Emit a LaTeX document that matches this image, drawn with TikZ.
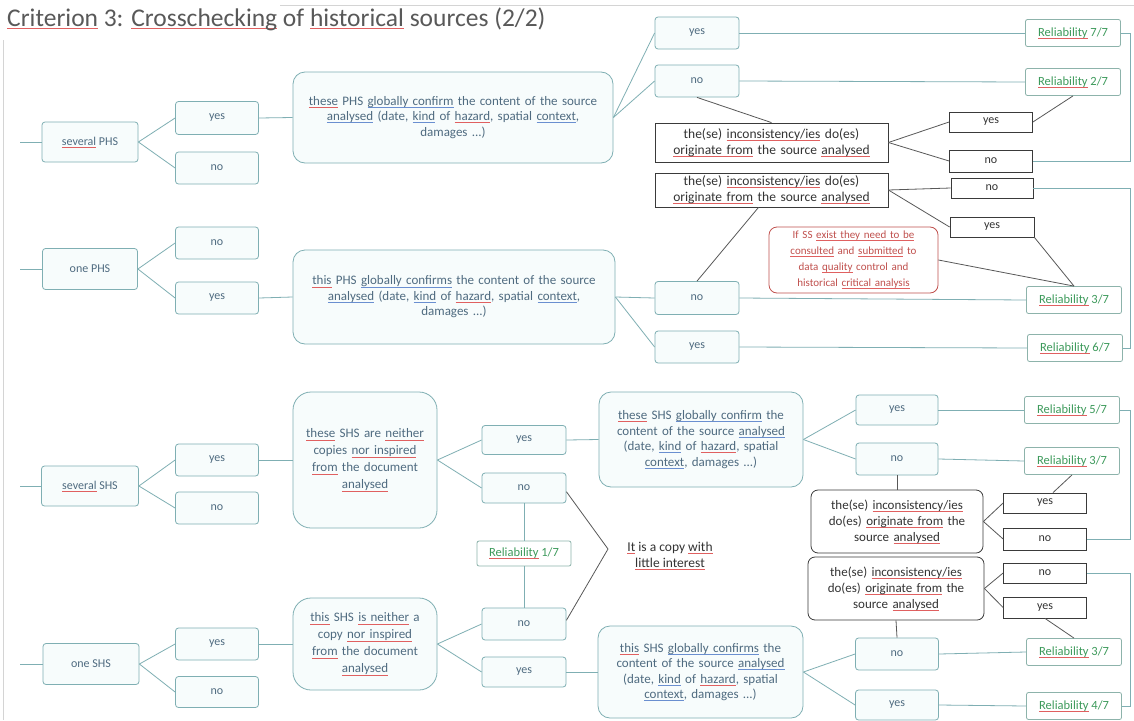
\documentclass[tikz,border=0pt]{standalone}
\usepackage{fontspec}
\setmainfont{Carlito}
\usetikzlibrary{calc}

\definecolor{tealline}{HTML}{7FAFB3}
\definecolor{tealfill}{HTML}{F7FCFC}
\definecolor{tealtext}{HTML}{4F6B80}
\definecolor{incborder}{HTML}{3A3A3A}
\definecolor{inctext}{HTML}{333333}
\definecolor{relborder}{HTML}{8DB3AB}
\definecolor{relgreen}{HTML}{3D9A5B}
\definecolor{notered}{HTML}{C0504D}
\definecolor{titlec}{HTML}{595959}
\definecolor{framec}{HTML}{D4D4D4}
\definecolor{spellred}{HTML}{E06060}
\definecolor{spellblue}{HTML}{6A8FD0}

% proofing underlines under single words
\newcommand\redu[1]{\leavevmode\setbox0\hbox{#1}\rlap{\color{spellred}\rule[-2.2pt]{\wd0}{0.6pt}}\box0\relax}
\newcommand\blueu[1]{\leavevmode\setbox0\hbox{#1}\rlap{\color{spellblue}\rule[-2.2pt]{\wd0}{0.6pt}}\box0\relax}

\begin{document}
\begin{tikzpicture}[x=1pt,y=-1pt,
  sz/.style 2 args={minimum width=#1, minimum height=#2},
  tbox/.style={draw=tealline, fill=tealfill, rounded corners=3pt, line width=0.8pt,
    text=tealtext, font=\fontsize{12}{14}\selectfont, inner sep=0pt, align=center},
  bigbox/.style={tbox, rounded corners=12pt, font=\fontsize{13}{15.5}\selectfont},
  roundbox/.style={tbox, rounded corners=18pt, font=\fontsize{13}{17}\selectfont},
  ibox/.style={draw=incborder, fill=white, line width=0.8pt, text=inctext,
    font=\fontsize{13.5}{16}\selectfont, inner sep=0pt, align=center},
  iround/.style={ibox, rounded corners=7pt, font=\fontsize{13}{16}\selectfont},
  ybox/.style={ibox, font=\fontsize{12}{14}\selectfont},
  relbox/.style={draw=relborder, fill=white, line width=0.8pt, rounded corners=2pt,
    text=relgreen, font=\fontsize{12.5}{14}\selectfont, inner sep=0pt, minimum width=95, minimum height=27},
  notebox/.style={draw=notered, fill=white, line width=0.8pt, rounded corners=8pt,
    text=notered, font=\fontsize{11}{16}\selectfont, inner sep=0pt, align=center},
  tline/.style={draw=tealline, line width=0.8pt},
  bline/.style={draw=incborder!85, line width=0.8pt},
  framel/.style={draw=framec, line width=0.8pt}]

\useasboundingbox[fill=white] (0,0) rectangle (1134,720);

% slide frame
\draw[framel] (3,40) -- (3,720);
\draw[framel] (280,5) -- (1134,5);

% title
\node[anchor=west, inner sep=0pt, text=titlec, font=\fontsize{25.5}{29}\selectfont] (title) at (7,19)
  {\redu{Criterion} 3: \redu{Crosschecking} of \redu{historical} sources (2/2)};

% right-hand rail for the "no" answers
\coordinate (rail) at (1130,0);

% ---------------- several PHS ----------------
\coordinate (in1) at (20,142);
\node[tbox,sz={96}{40}] (sPHS) at (90,142) {\redu{several} PHS};
\node[tbox,sz={83}{33}] (s1y) at (217,118) {yes};
\node[tbox,sz={83}{32}] (s1n) at (217,168) {no};
\node[bigbox,sz={320}{91},text width=314] (bigA) at (453,117.5)
  {\redu{these} PHS \blueu{globally confirm} the content of the source\\
   \blueu{analysed} (date, \blueu{kind} of \redu{hazard}, spatial \blueu{context},\\ damages ...)};
\node[tbox,sz={84}{32}] (ay) at (697,33) {yes};
\node[tbox,sz={84}{32}] (an) at (697,81) {no};
\node[relbox] (R77) at (1073,33) {\redu{Reliability} 7/7};
\node[relbox] (R27) at (1073,82) {\redu{Reliability} 2/7};
\node[ibox,sz={233}{39},text width=229] (incA) at (771.5,142.5)
  {the(se) \redu{inconsistency/ies} do(es)\\ \redu{originate from} the source \redu{analysed}};
\node[ybox,sz={83}{20}] (incAy) at (991,122) {yes};
\node[ybox,sz={83}{22}] (incAn) at (991,161) {no};

\draw[tline] (in1) -- (sPHS.west);
\draw[tline] (sPHS.east) -- (s1y.west);
\draw[tline] (sPHS.east) -- (s1n.west);
\draw[tline] (s1y.east) -- (bigA.west);
\draw[tline] (bigA.east) -- (ay.west);
\draw[tline] (bigA.east) -- (an.west);
\draw[tline] (ay.east) -- (R77.west);
\draw[tline] (an.east) -- (R27.west);
\draw[bline] (an.south) -- (incA.north);
\draw[bline] (incA.east) -- (incAy.west);
\draw[bline] (incA.east) -- (incAn.west);
\draw[bline] (incAy.east) -- (R27.south);
\draw[tline] (incAn.east) -- (incAn.east -| rail) |- (R77.east);

% ---------------- one PHS ----------------
\coordinate (in2) at (20,269);
\node[tbox,sz={95}{41}] (oPHS) at (90,269) {one PHS};
\node[tbox,sz={83}{32}] (o1n) at (217,243) {no};
\node[tbox,sz={83}{32}] (o1y) at (217,298) {yes};
\node[bigbox,sz={322}{94},text width=316] (bigB) at (454,297)
  {\redu{this} PHS \blueu{globally confirms} the content of the source\\
   \blueu{analysed} (date, \blueu{kind} of \redu{hazard}, spatial \blueu{context},\\ damages ...)};
\node[tbox,sz={84}{33}] (bn) at (697,298) {no};
\node[tbox,sz={84}{32}] (by) at (697,347) {yes};
\node[relbox] (R37a) at (1074,300) {\redu{Reliability} 3/7};
\node[relbox] (R67) at (1075,348) {\redu{Reliability} 6/7};
\node[ibox,sz={233}{34},text width=229] (incB) at (771.5,190)
  {the(se) \redu{inconsistency/ies} do(es)\\ \redu{originate from} the source \redu{analysed}};
\node[ybox,sz={82}{20}] (incBn) at (992,188) {no};
\node[ybox,sz={84}{20}] (incBy) at (992,227) {yes};
\node[notebox,sz={169}{66},text width=163] (note) at (853.5,260)
  {If SS \redu{exist they need to be}\\ \redu{consulted} and \redu{submitted} to\\
   data \redu{quality} control and\\ historical \redu{critical analysis}};

\draw[tline] (in2) -- (oPHS.west);
\draw[tline] (oPHS.east) -- (o1n.west);
\draw[tline] (oPHS.east) -- (o1y.west);
\draw[tline] (o1y.east) -- (bigB.west);
\draw[tline] (bigB.east) -- (bn.west);
\draw[tline] (bigB.east) -- (by.west);
\draw[tline] (bn.east) -- (R37a.west);
\draw[tline] (by.east) -- (R67.west);
\draw[bline] (bn.north) -- ([xshift=-13pt]incB.south);
\draw[bline] (incB.east) -- (incBn.west);
\draw[bline] (incB.east) -- (incBy.west);
\draw[bline] (incBy.south east) -- (R37a.north);
\draw[bline] (note.east) -- (R37a.north);
\draw[tline] (incBn.east) -- (incBn.east -| rail) |- (R67.east);

% ---------------- several SHS ----------------
\coordinate (in3) at (20,486);
\node[tbox,sz={97}{40}] (sSHS) at (90,486) {\redu{several} SHS};
\node[tbox,sz={83}{32}] (s2y) at (217,460) {yes};
\node[tbox,sz={83}{32}] (s2n) at (217,508) {no};
\node[roundbox,sz={144}{136},text width=138] (bigC) at (365,460)
  {\redu{these} SHS are \redu{neither}\\ copies \redu{nor inspired}\\ \redu{from} the document\\ \redu{analysed}};
\node[tbox,sz={84}{29}] (cy) at (524,440) {yes};
\node[tbox,sz={84}{30}] (cn) at (524,488) {no};
\node[bigbox,sz={204}{95},text width=200] (bigD) at (701,439.5)
  {\redu{these} SHS \blueu{globally confirm} the\\ content of the source \blueu{analysed}\\
   (date, \blueu{kind} of \redu{hazard}, spatial\\ \blueu{context}, damages ...)};
\node[tbox,sz={82}{30}] (dy) at (897,410) {yes};
\node[tbox,sz={82}{32}] (dn) at (897,459) {no};
\node[relbox] (R57) at (1072,410) {\redu{Reliability} 5/7};
\node[relbox] (R37b) at (1072,461) {\redu{Reliability} 3/7};
\node[iround,sz={172}{63},text width=168] (incC) at (897,521.5)
  {the(se) \redu{inconsistency/ies}\\ do(es) \redu{originate from} the\\ source \redu{analysed}};
\node[ybox,sz={83}{20}] (incCy) at (1045,503) {yes};
\node[ybox,sz={83}{22}] (incCn) at (1045,539) {no};
\node[relbox,sz={94}{25}] (R17) at (524,553.5) {\redu{Reliability} 1/7};
\coordinate (apex) at (608,549);
\node[text=inctext, font=\fontsize{13.5}{16}\selectfont, align=center, inner sep=0pt] (copy) at (670,556)
  {\redu{It} is a copy \redu{with}\\ \redu{little interest}};

\draw[tline] (in3) -- (sSHS.west);
\draw[tline] (sSHS.east) -- (s2y.west);
\draw[tline] (sSHS.east) -- (s2n.west);
\draw[tline] (s2y.east) -- (bigC.west);
\draw[tline] (bigC.east) -- (cy.west);
\draw[tline] (bigC.east) -- (cn.west);
\draw[tline] (cy.east) -- (bigD.west);
\draw[tline] (bigD.east) -- (dy.west);
\draw[tline] (bigD.east) -- (dn.west);
\draw[tline] (dy.east) -- (R57.west);
\draw[tline] (dn.east) -- (R37b.west);
\draw[bline] (dn.south) -- (incC.north);
\draw[bline] (incC.east) -- (incCy.west);
\draw[bline] (incC.east) -- (incCn.west);
\draw[bline] ([xshift=8pt]incCy.north) -- (R37b.south);
\draw[tline] (incCn.east) -- (incCn.east -| rail) |- (R57.east);

% ---------------- one SHS ----------------
\coordinate (in4) at (20,664);
\node[tbox,sz={96}{41}] (oSHS) at (91,664) {one SHS};
\node[tbox,sz={83}{32}] (o2y) at (217,644) {yes};
\node[tbox,sz={83}{31}] (o2n) at (217,692) {no};
\node[roundbox,sz={144}{92},text width=138] (bigE) at (365,644)
  {\redu{this} SHS \redu{is neither} a\\ copy \redu{nor inspired}\\ \redu{from} the document\\ \redu{analysed}};
\node[tbox,sz={84}{32}] (en) at (524,624) {no};
\node[tbox,sz={84}{30}] (ey) at (524,672) {yes};
\node[bigbox,sz={205}{92},text width=201] (bigF) at (700.5,672)
  {\redu{this} SHS \blueu{globally confirms} the\\ content of the source \blueu{analysed}\\
   (date, \blueu{kind} of \redu{hazard}, spatial\\ \blueu{context}, damages ...)};
\node[tbox,sz={83}{32}] (fn) at (897,654) {no};
\node[tbox,sz={83}{30}] (fy) at (897,705) {yes};
\node[relbox] (R37c) at (1074,652) {\redu{Reliability} 3/7};
\node[relbox] (R47) at (1074,706) {\redu{Reliability} 4/7};
\node[iround,sz={176}{63},text width=172] (incD) at (896,588.5)
  {the(se) \redu{inconsistency/ies}\\ do(es) \redu{originate from} the\\ source \redu{analysed}};
\node[ybox,sz={83}{20}] (incDn) at (1045,573) {no};
\node[ybox,sz={83}{21}] (incDy) at (1045,607.5) {yes};

\draw[tline] (in4) -- (oSHS.west);
\draw[tline] (oSHS.east) -- (o2y.west);
\draw[tline] (oSHS.east) -- (o2n.west);
\draw[tline] (o2y.east) -- (bigE.west);
\draw[tline] (bigE.east) -- (en.west);
\draw[tline] (bigE.east) -- (ey.west);
\draw[tline] (ey.east) -- (bigF.west);
\draw[tline] (bigF.east) -- (fn.west);
\draw[tline] (bigF.east) -- (fy.west);
\draw[tline] (fn.east) -- (R37c.west);
\draw[tline] (fy.east) -- (R47.west);
\draw[bline] (fn.north) -- (incD.south);
\draw[bline] (incD.east) -- (incDn.west);
\draw[bline] (incD.east) -- (incDy.west);
\draw[bline] (incDy.south) -- (R37c.north);
\draw[tline] (incDn.east) -- (incDn.east -| rail) |- (R47.east);

% copies of the analysed document
\draw[tline] (cn.south) -- (R17.north);
\draw[tline] (R17.south) -- (en.north);
\draw[bline] (cn.-5) -- (apex) -- (en.5);

\end{tikzpicture}
\end{document}
